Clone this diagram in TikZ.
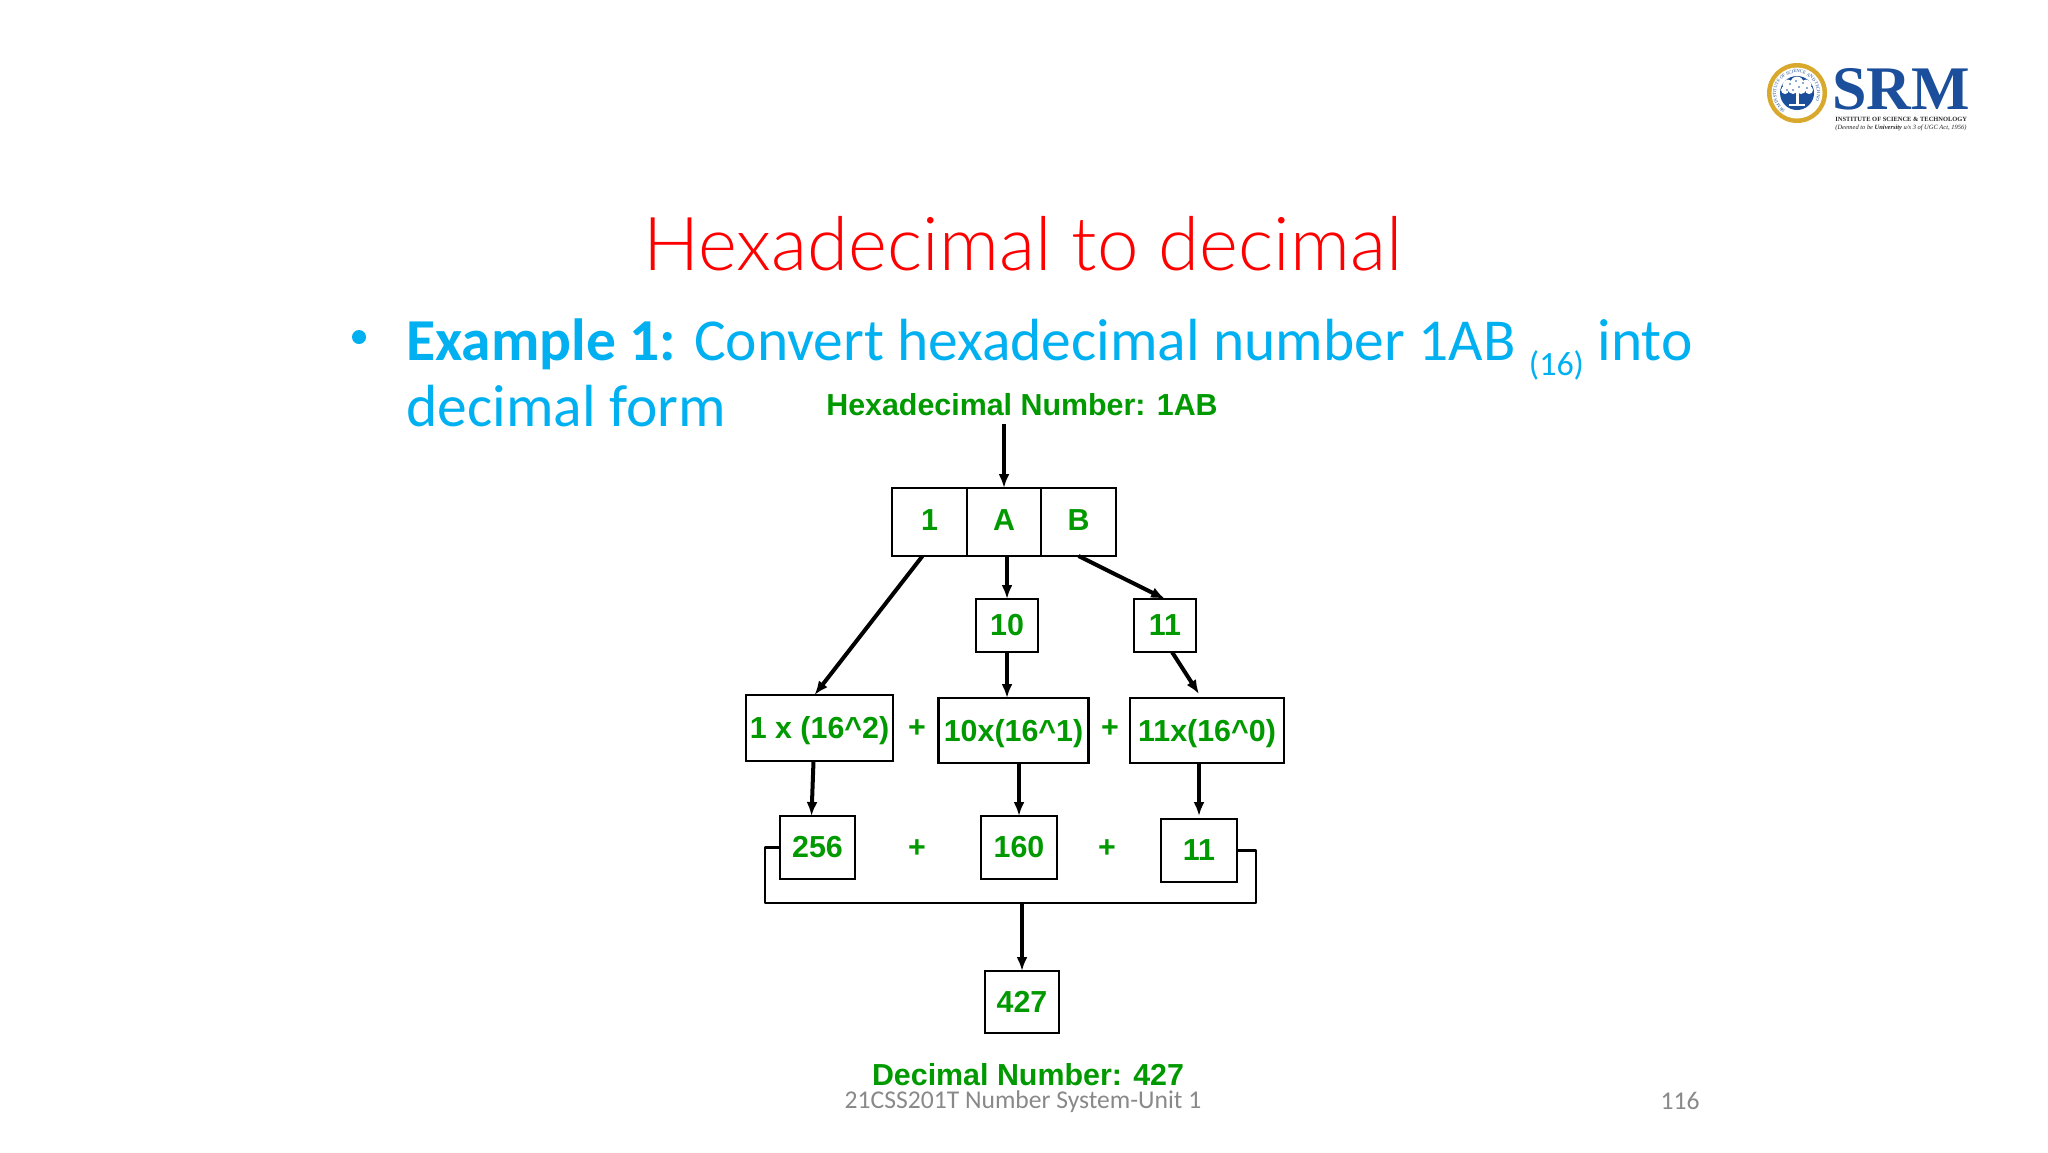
\documentclass[tikz,border=0pt]{standalone}
\usepackage{fontspec}
\setmainfont{Carlito}
\newfontfamily\titlef{Lato Light}
\newfontfamily\arialf{Liberation Sans}
\newfontfamily\timesf{Liberation Serif}
\usetikzlibrary{arrows.meta,decorations.text}
\definecolor{hexgreen}{HTML}{009A00}
\definecolor{slidecyan}{HTML}{00B0F0}
\definecolor{footgrey}{HTML}{898989}
\definecolor{srmblue}{HTML}{1B4F9C}
\definecolor{srmgold}{HTML}{D9A92E}
\tikzset{
  x=0.5pt,y=-0.5pt,
  gtext/.style={font=\arialf\bfseries\fontsize{15.2}{15.2}\selectfont,text=hexgreen,inner sep=0pt},
  numbox/.style={draw=black,line width=1.45pt,inner sep=0pt,outer sep=0pt,gtext},
  link/.style={draw=black,line width=2pt,-{Latex[length=7pt,width=5.5pt]}},
  plainlink/.style={draw=black,line width=1.45pt,line join=round},
  slidetext/.style={anchor=base west,inner sep=0pt,text=slidecyan,font=\fontsize{29.75}{29.75}\selectfont},
  foot/.style={inner sep=0pt,text=footgrey,font=\fontsize{12.8}{12.8}\selectfont},
}
\begin{document}
\begin{tikzpicture}
\useasboundingbox (0,0) rectangle (2048,1152);
\fill[white] (0,0) rectangle (2048,1152);
% title and body
\node[anchor=base,inner sep=0pt,text=red,font=\titlef\fontsize{37.2}{37.2}\selectfont] (title) at (1023,270) {Hexadecimal to decimal};
\fill[slidecyan] (359,337) circle (7);
\node[slidetext] (line1) at (406,360) {\textbf{Example 1:} Convert hexadecimal number 1AB {\fontsize{17}{17}\selectfont\raisebox{-7.5pt}{(16)}} into};
\node[slidetext] (line2) at (406,426) {decimal form};
% diagram labels
\node[gtext] (hextitle) at (1022,405) {Hexadecimal Number: 1AB};
\node[gtext] (dectitle) at (1028,1075) {Decimal Number: 427};
% digit cells
\node[numbox,minimum width=37.5pt,minimum height=34pt] (cell1) at (929.5,522) {1\rule[-1.5pt]{0pt}{0pt}};
\node[numbox,minimum width=37pt,minimum height=34pt] (cellA) at (1004,522) {A\rule[-1.5pt]{0pt}{0pt}};
\node[numbox,minimum width=37.5pt,minimum height=34pt] (cellB) at (1078.5,522) {B\rule[-1.5pt]{0pt}{0pt}};
\node[numbox,minimum width=31pt,minimum height=26.5pt] (ten) at (1007,625.5) {10};
\node[numbox,minimum width=31pt,minimum height=26.5pt] (eleven) at (1165,625.5) {11};
\node[numbox,minimum width=73.5pt,minimum height=33pt] (term1) at (819.5,728) {\rule{0pt}{14pt}1 x (16\^{}2)};
\node[numbox,minimum width=75pt,minimum height=32.5pt] (term2) at (1013.5,730.5) {\rule{0pt}{14pt}10x(16\^{}1)};
\node[numbox,minimum width=77pt,minimum height=32.5pt] (term3) at (1207,730.5) {\rule{0pt}{14pt}11x(16\^{}0)};
\node[numbox,minimum width=37.5pt,minimum height=31.5pt] (v256) at (817.5,847.5) {256};
\node[numbox,minimum width=38pt,minimum height=31.5pt] (v160) at (1019,847.5) {160};
\node[numbox,minimum width=38pt,minimum height=31.5pt] (v11) at (1199,850.5) {11};
\node[numbox,minimum width=37pt,minimum height=31pt] (v427) at (1022,1002) {427};
\node[gtext] (plusa) at (917,729) {+};
\node[gtext] (plusb) at (1110,729) {+};
\node[gtext] (plusc) at (917,849) {+};
\node[gtext] (plusd) at (1107,849) {+};
% connectors
\draw[link] ([yshift=-3.5pt]hextitle.south -| cellA.north) -- (cellA.north);
\draw[link] ([xshift=-3.5pt]cell1.south) -- ([xshift=-2.5pt]term1.north);
\draw[link] (cellA.south -| ten.north) -- (ten.north);
\draw[link] (cellB.south) -- (eleven.north);
\draw[link] (ten.south) -- (ten.south |- term2.north);
\draw[link] ([xshift=3.5pt]eleven.south) -- ([xshift=-4pt,yshift=2pt]term3.north);
\draw[link] ([xshift=-3pt]term1.south) -- ([xshift=-3pt]v256.north);
\draw[link] (v160.north |- term2.south) -- (v160.north);
\draw[link] (v11.north |- term3.south) -- ([yshift=1.5pt]v11.north);
\coordinate (busL) at (765,903);
\coordinate (busR) at (1256,903);
\coordinate (busJ) at (1022,903);
\draw[plainlink] (v256.west) -| (busL) -- (busR) |- (v11.east);
\draw[link] (busJ) -- (v427.north);
% footer
\node[foot] (footer) at (1023,1102) {21CSS201T Number System-Unit 1};
\node[foot] (pagenum) at (1680,1101) {116};
% logo
\fill[srmgold] (1797,93) circle (30);
\fill[white] (1797,93) circle (25.5);
\fill[srmblue] (1797,93) circle (17);
\path[postaction={decorate,decoration={text along path,text align=center,
  text={|\timesf\fontsize{2.3}{2.3}\selectfont\color{srmblue}|SRM INSTITUTE OF SCIENCE AND TECHNOLOGY}}}]
  (1777.3,100.2) arc[start angle=160,end angle=380,radius=20.5];
\foreach \cx/\cy/\rr in {1797/83/6.5,1788/85/5.5,1806/85/5.5,1785/90/4,1809/90/4,1793/89/5,1801/89/5}
  \fill[white] (\cx,\cy) circle (\rr);
\foreach \cx/\cy in {1790/84,1796/81,1803/83,1807/88,1787/90,1799/87,1793/90}
  \fill[srmblue] (\cx,\cy) circle (0.8);
\fill[white] (1795.5,90) rectangle (1798.5,104);
\fill[white] (1789,104) rectangle (1805,105.5);
\node[anchor=base west,inner sep=0pt,text=srmblue,font=\timesf\bfseries\fontsize{31}{31}\selectfont] (srm) at (1832,109) {SRM};
\node[anchor=base west,inner sep=0pt,text=black!85,font=\timesf\bfseries\fontsize{3.23}{3.23}\selectfont] (srmline) at (1835,121) {INSTITUTE OF SCIENCE \& TECHNOLOGY};
\node[anchor=base west,inner sep=0pt,text=black!85,font=\timesf\itshape\fontsize{3.23}{3.23}\selectfont] (srmdeemed) at (1835,129) {(Deemed to be \textbf{University} u/s 3 of UGC Act, 1956)};
\end{tikzpicture}
\end{document}
